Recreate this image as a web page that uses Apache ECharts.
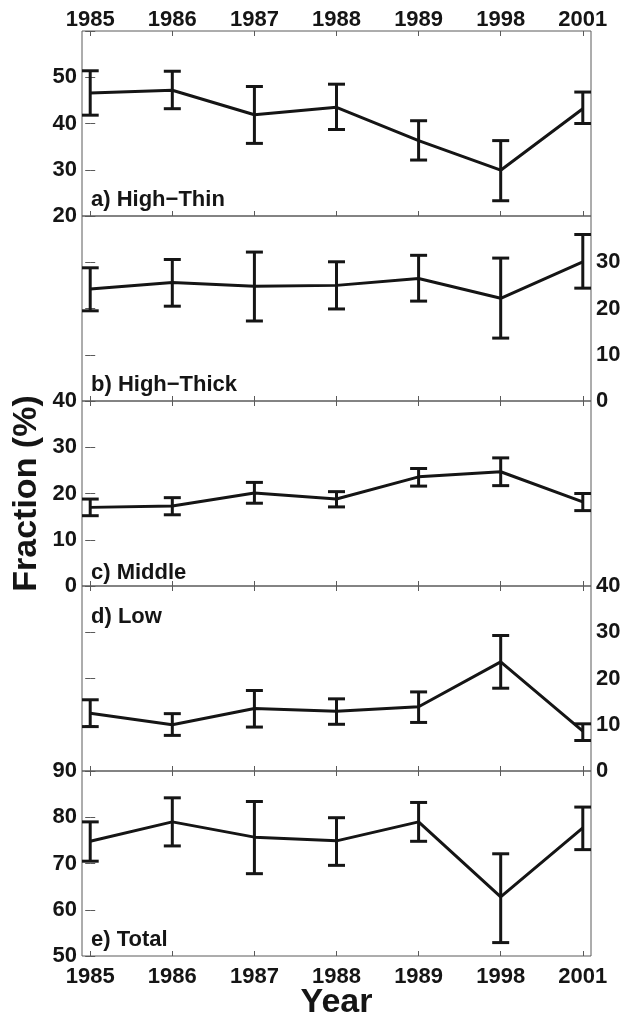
<!DOCTYPE html>
<html>
<head>
<meta charset="utf-8">
<title>Fraction (%)</title>
<script src="https://cdn.jsdelivr.net/npm/echarts@6/dist/echarts.min.js"></script>
<style>
  html, body { margin: 0; padding: 0; background: #ffffff; }
  #chart { width: 621px; height: 1020px; }
</style>
</head>
<body>
<div id="chart"></div>
<script>
// 年份 (等间距显示)
const years = ['1985', '1986', '1987', '1988', '1989', '1998', '2001']

// a) High-Thin
const highThin = [46.6, 47.2, 41.9, 43.5, 36.3, 29.9, 43.2]
const highThinLo = [41.8, 43.2, 35.7, 38.7, 32.1, 23.3, 40.0]
const highThinHi = [51.4, 51.3, 48.0, 48.5, 40.6, 36.3, 46.8]

// b) High-Thick
const highThick = [24.2, 25.6, 24.8, 25.0, 26.5, 22.2, 30.1]
const highThickLo = [19.5, 20.5, 17.3, 19.9, 21.6, 13.6, 24.4]
const highThickHi = [28.8, 30.6, 32.2, 30.1, 31.5, 30.9, 36.0]

// c) Middle
const middle = [17.0, 17.3, 20.1, 18.8, 23.6, 24.7, 18.2]
const middleLo = [15.2, 15.4, 17.9, 17.1, 21.6, 21.7, 16.3]
const middleHi = [18.8, 19.1, 22.4, 20.4, 25.4, 27.7, 20.0]

// d) Low
const low = [12.5, 10.0, 13.5, 12.9, 13.9, 23.6, 8.6]
const lowLo = [9.6, 7.7, 9.5, 10.1, 10.5, 17.9, 6.6]
const lowHi = [15.4, 12.4, 17.4, 15.6, 17.1, 29.3, 10.2]

// e) Total
const total = [74.8, 79.0, 75.7, 74.9, 79.0, 62.8, 77.7]
const totalLo = [70.5, 73.8, 67.8, 69.6, 74.8, 52.9, 73.0]
const totalHi = [79.0, 84.2, 83.4, 79.9, 83.2, 72.1, 82.2]

// y轴刻度标签
const ticksA = [20, 30, 40, 50]
const ticksB = [0, 10, 20, 30]
const ticksC = [0, 10, 20, 30, 40]
const ticksD = [0, 10, 20, 30, 40]
const ticksE = [50, 60, 70, 80, 90]

const FONT = '"Liberation Sans", Arial, Helvetica, sans-serif'
const INK = '#151515'
const FRAME = '#5a5a5a'

const panels = [
  { name: 'a) High−Thin', mean: highThin, lo: highThinLo, hi: highThinHi, min: 20, max: 60, side: 'left', ticks: ticksA, labelY: 201 },
  { name: 'b) High−Thick', mean: highThick, lo: highThickLo, hi: highThickHi, min: 0, max: 40, side: 'right', ticks: ticksB, labelY: 386 },
  { name: 'c) Middle', mean: middle, lo: middleLo, hi: middleHi, min: 0, max: 40, side: 'left', ticks: ticksC, labelY: 574 },
  { name: 'd) Low', mean: low, lo: lowLo, hi: lowHi, min: 0, max: 40, side: 'right', ticks: ticksD, labelY: 618 },
  { name: 'e) Total', mean: total, lo: totalLo, hi: totalHi, min: 50, max: 90, side: 'left', ticks: ticksE, labelY: 941 }
]

const xIdx = years.map((y, i) => i)
const GRID_TOP = 31
const GRID_H = 185
const GRID_LEFT = 82
const GRID_RIGHT = 30

const labelStyle = {
  fontFamily: FONT,
  fontWeight: 'bold',
  fontSize: 22,
  color: INK
}

const nameStyle = { fontFamily: FONT, fontWeight: 'bold', fontSize: 34, color: INK }

let grids = []
let xAxes = []
let yAxes = []
let series = []
let texts = []

panels.forEach((p, k) => {
  grids.push({
    left: GRID_LEFT,
    right: GRID_RIGHT,
    top: GRID_TOP + k * GRID_H,
    height: GRID_H,
    show: true,
    borderColor: FRAME,
    borderWidth: 1,
    backgroundColor: 'transparent',
    containLabel: false,
    outerBoundsMode: 'none'
  })

  // 上下两条x轴, 只画向内的刻度
  ;['bottom', 'top'].forEach(pos => {
    const withLabel = (k === 0 && pos === 'top') || (k === panels.length - 1 && pos === 'bottom')
    let ax = {
      type: 'value',
      gridIndex: k,
      position: pos,
      min: -0.1,
      max: 6.1,
      axisLine: { show: false },
      splitLine: { show: false },
      axisTick: {
        show: true,
        inside: true,
        length: 5,
        customValues: xIdx,
        lineStyle: { color: FRAME, width: 1 }
      },
      axisLabel: Object.assign({
        show: withLabel,
        customValues: xIdx,
        margin: pos === 'top' ? 0 : 10,
        formatter: v => years[Math.round(v)]
      }, labelStyle)
    }
    if (k === panels.length - 1 && pos === 'bottom') {
      ax.name = 'Year'
      ax.nameLocation = 'middle'
      ax.nameGap = 30
      ax.nameMoveOverlap = false
      ax.nameTextStyle = nameStyle
    }
    xAxes.push(ax)
  })

  // 左右两条y轴
  ;['left', 'right'].forEach(pos => {
    let ax = {
      type: 'value',
      gridIndex: k,
      position: pos,
      min: p.min,
      max: p.max,
      interval: 10,
      axisLine: { show: false },
      splitLine: { show: false },
      axisTick: {
        show: true,
        inside: true,
        length: 5,
        lineStyle: { color: FRAME, width: 1 }
      },
      axisLabel: Object.assign({
        show: pos === p.side,
        customValues: p.ticks,
        margin: 5
      }, labelStyle)
    }
    if (k === 2 && pos === 'left') {
      ax.name = 'Fraction (%)'
      ax.nameLocation = 'middle'
      ax.nameGap = 38
      ax.nameRotate = 90
      ax.nameMoveOverlap = false
      ax.nameTextStyle = nameStyle
    }
    yAxes.push(ax)
  })

  // 均值折线
  series.push({
    type: 'line',
    xAxisIndex: k * 2,
    yAxisIndex: k * 2,
    symbol: 'none',
    lineStyle: { color: INK, width: 3 },
    data: p.mean.map((v, i) => [i, v]),
    z: 3
  })

  // 误差棒
  series.push({
    type: 'custom',
    xAxisIndex: k * 2,
    yAxisIndex: k * 2,
    clip: true,
    data: p.lo.map((v, i) => [i, v, p.hi[i]]),
    renderItem: (params, api) => {
      const pLo = api.coord([api.value(0), api.value(1)])
      const pHi = api.coord([api.value(0), api.value(2)])
      const hw = 8.5
      const st = { stroke: INK, lineWidth: 3 }
      return {
        type: 'group',
        children: [
          { type: 'line', shape: { x1: pLo[0], y1: pLo[1], x2: pHi[0], y2: pHi[1] }, style: st },
          { type: 'line', shape: { x1: pHi[0] - hw, y1: pHi[1], x2: pHi[0] + hw, y2: pHi[1] }, style: st },
          { type: 'line', shape: { x1: pLo[0] - hw, y1: pLo[1], x2: pLo[0] + hw, y2: pLo[1] }, style: st }
        ]
      }
    },
    z: 4
  })

  texts.push({
    type: 'text',
    left: 91,
    top: p.labelY - 12,
    style: {
      text: p.name,
      fontFamily: FONT,
      fontWeight: 'bold',
      fontSize: 22,
      fill: INK
    }
  })
})

const chart = echarts.init(document.getElementById('chart'), null, { renderer: 'canvas' })
chart.setOption({
  animation: false,
  backgroundColor: '#ffffff',
  grid: grids,
  xAxis: xAxes,
  yAxis: yAxes,
  series: series,
  graphic: texts
})
</script>
</body>
</html>
